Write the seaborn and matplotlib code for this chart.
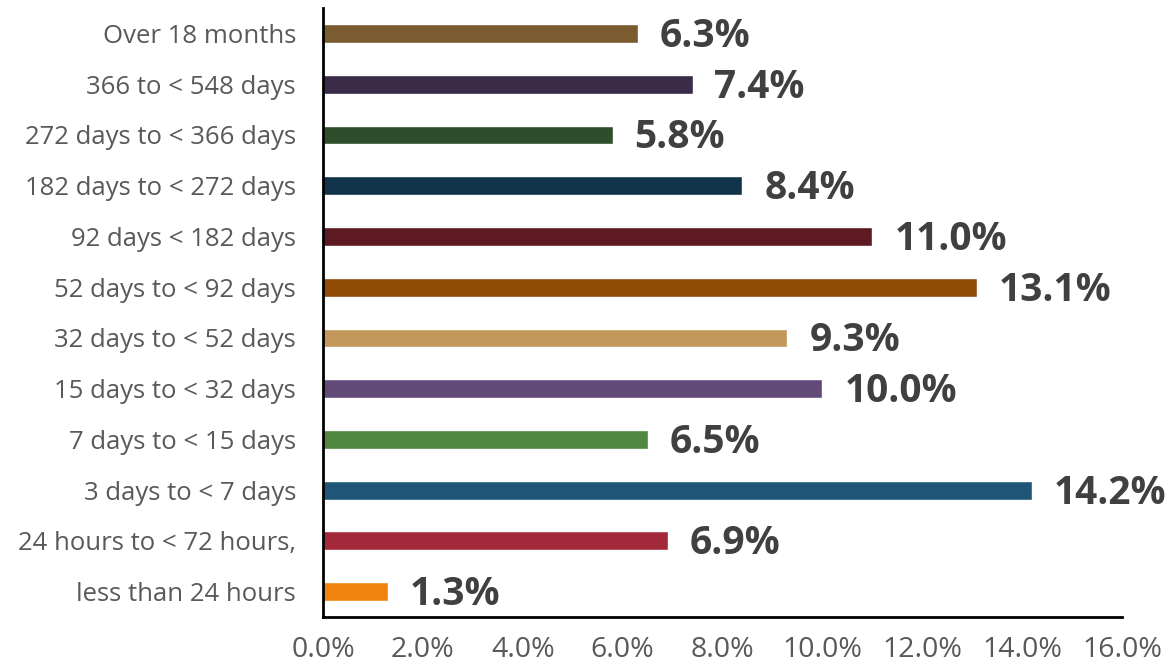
import matplotlib
matplotlib.use("Agg")
import matplotlib.pyplot as plt
import seaborn as sns
import pandas as pd
from matplotlib.ticker import FuncFormatter

categories = [
    "Over 18 months",
    "366 to < 548 days",
    "272 days to < 366 days",
    "182 days to < 272 days",
    "92 days < 182 days",
    "52 days to < 92 days",
    "32 days to < 52 days",
    "15 days to < 32 days",
    "7 days to < 15 days",
    "3 days to < 7 days",
    "24 hours to < 72 hours,",
    "less than 24 hours",
]
values = [6.3, 7.4, 5.8, 8.4, 11.0, 13.1, 9.3, 10.0, 6.5, 14.2, 6.9, 1.3]
colors = [
    "#7a5c30", "#3a2b48", "#2e4d2a", "#12344a", "#5e1a22", "#8f4a05",
    "#c3965a", "#614a78", "#4f8640", "#1f5678", "#a2283a", "#f0820f",
]

df = pd.DataFrame({"category": categories, "value": values})

sns.set_style("white")
plt.rcParams["font.family"] = ["Open Sans", "DejaVu Sans"]

fig = plt.figure(figsize=(11.72, 6.71), dpi=100)
ax = fig.add_axes([0.2756, 0.0805, 0.6817, 0.9075])

sns.barplot(data=df, x="value", y="category", hue="category",
            palette=colors, legend=False, width=0.37, ax=ax, saturation=1)

for i, v in enumerate(values):
    ax.text(v + 0.44, i + 0.06, f"{v:.1f}%", va="center", ha="left",
            fontsize=28, fontweight="bold", color="#404040")

ax.set_xlim(0, 16)
ax.set_ylim(11.5, -0.5)
ax.set_xticks(range(0, 17, 2))
ax.xaxis.set_major_formatter(FuncFormatter(lambda x, p: f"{x:.1f}%"))
ax.set_xlabel("")
ax.set_ylabel("")
ax.tick_params(axis="both", length=0, labelcolor="#595959")
ax.tick_params(axis="x", labelsize=20.5, pad=14)
ax.tick_params(axis="y", labelsize=18.5, pad=19.5)

for s in ["top", "right"]:
    ax.spines[s].set_visible(False)
for s in ["left", "bottom"]:
    ax.spines[s].set_color("black")
    ax.spines[s].set_linewidth(2)

fig.savefig("out.png", dpi=100)
